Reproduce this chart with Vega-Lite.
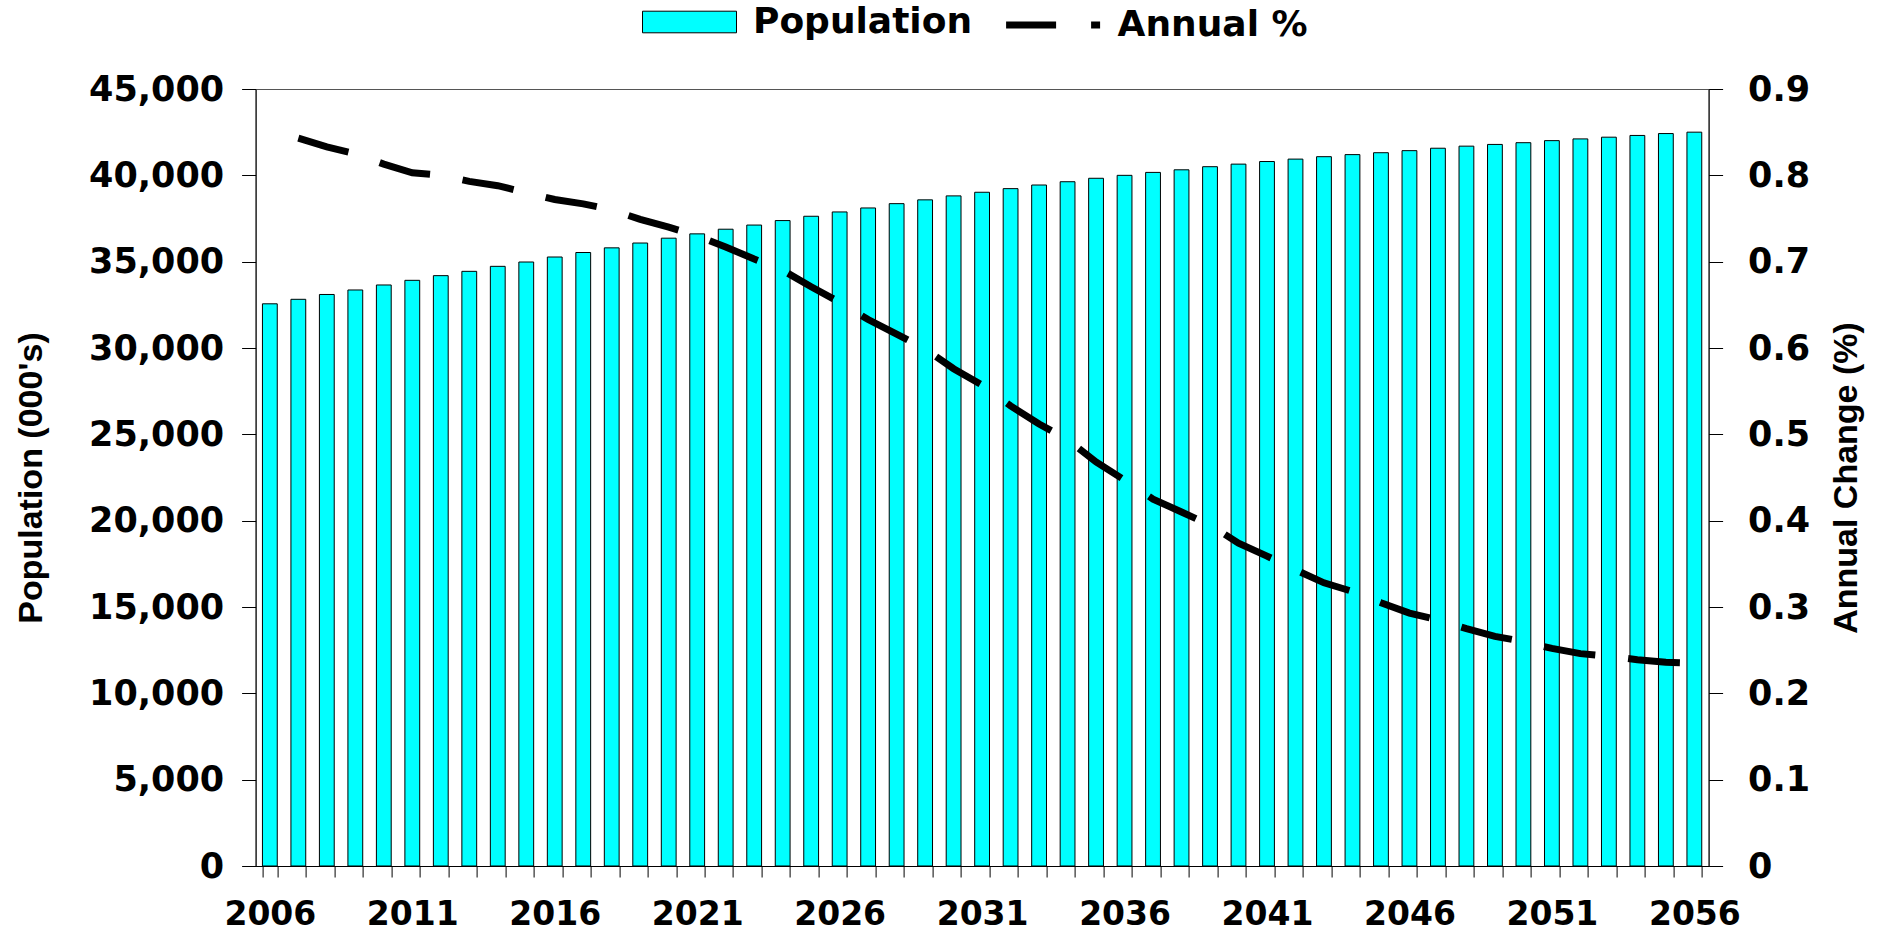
{
  "$schema": "https://vega.github.io/schema/vega-lite/v6.json",
  "width": 1453,
  "height": 777,
  "autosize": {"type": "none"},
  "padding": {"left": 255.6, "top": 89, "right": 172.4, "bottom": 68},
  "background": "white",
  "config": {
    "view": {"stroke": "#555555", "strokeWidth": 1},
    "axis": {"grid": false}
  },
  "data": {
    "values": [
      {"year": 2006, "pop": 32560, "pct": null},
      {"year": 2007, "pop": 32820, "pct": 0.843},
      {"year": 2008, "pop": 33100, "pct": 0.833},
      {"year": 2009, "pop": 33360, "pct": 0.825},
      {"year": 2010, "pop": 33650, "pct": 0.813},
      {"year": 2011, "pop": 33920, "pct": 0.803},
      {"year": 2012, "pop": 34190, "pct": 0.8},
      {"year": 2013, "pop": 34440, "pct": 0.793},
      {"year": 2014, "pop": 34730, "pct": 0.788},
      {"year": 2015, "pop": 34980, "pct": 0.78},
      {"year": 2016, "pop": 35270, "pct": 0.772},
      {"year": 2017, "pop": 35530, "pct": 0.767},
      {"year": 2018, "pop": 35800, "pct": 0.76},
      {"year": 2019, "pop": 36080, "pct": 0.749},
      {"year": 2020, "pop": 36360, "pct": 0.74},
      {"year": 2021, "pop": 36610, "pct": 0.73},
      {"year": 2022, "pop": 36880, "pct": 0.717},
      {"year": 2023, "pop": 37120, "pct": 0.703},
      {"year": 2024, "pop": 37380, "pct": 0.69},
      {"year": 2025, "pop": 37630, "pct": 0.671},
      {"year": 2026, "pop": 37880, "pct": 0.653},
      {"year": 2027, "pop": 38110, "pct": 0.633},
      {"year": 2028, "pop": 38360, "pct": 0.616},
      {"year": 2029, "pop": 38580, "pct": 0.599},
      {"year": 2030, "pop": 38810, "pct": 0.576},
      {"year": 2031, "pop": 39020, "pct": 0.557},
      {"year": 2032, "pop": 39230, "pct": 0.533},
      {"year": 2033, "pop": 39440, "pct": 0.512},
      {"year": 2034, "pop": 39630, "pct": 0.494},
      {"year": 2035, "pop": 39830, "pct": 0.468},
      {"year": 2036, "pop": 40000, "pct": 0.447},
      {"year": 2037, "pop": 40170, "pct": 0.425},
      {"year": 2038, "pop": 40320, "pct": 0.41},
      {"year": 2039, "pop": 40500, "pct": 0.395},
      {"year": 2040, "pop": 40650, "pct": 0.374},
      {"year": 2041, "pop": 40800, "pct": 0.359},
      {"year": 2042, "pop": 40940, "pct": 0.343},
      {"year": 2043, "pop": 41080, "pct": 0.328},
      {"year": 2044, "pop": 41200, "pct": 0.318},
      {"year": 2045, "pop": 41310, "pct": 0.305},
      {"year": 2046, "pop": 41430, "pct": 0.293},
      {"year": 2047, "pop": 41570, "pct": 0.285},
      {"year": 2048, "pop": 41690, "pct": 0.275},
      {"year": 2049, "pop": 41790, "pct": 0.266},
      {"year": 2050, "pop": 41890, "pct": 0.26},
      {"year": 2051, "pop": 42010, "pct": 0.252},
      {"year": 2052, "pop": 42110, "pct": 0.246},
      {"year": 2053, "pop": 42210, "pct": 0.243},
      {"year": 2054, "pop": 42310, "pct": 0.239},
      {"year": 2055, "pop": 42420, "pct": 0.236},
      {"year": 2056, "pop": 42500, "pct": 0.235}
    ]
  },
  "encoding": {
    "x": {
      "field": "year",
      "type": "ordinal",
      "scale": {"paddingInner": 0.48, "paddingOuter": 0.24},
      "axis": {
        "title": null,
        "labelAngle": 0,
        "labelOverlap": false,
        "labelExpr": "datum.value % 5 === 1 ? datum.label : ''",
        "labelFont": "DejaVu Sans",
        "labelFontWeight": "bold",
        "labelFontSize": 33,
        "labelColor": "black",
        "labelPadding": 21,
        "tickBand": "extent",
        "tickSize": 11,
        "tickColor": "black",
        "domainColor": "black",
        "encode": {
          "ticks": {"update": {"y": {"value": -11}}},
          "labels": {"update": {"dx": {"signal": "datum.value === 2006 ? 13 : datum.value === 2056 ? -18 : 0"}}}
        }
      }
    }
  },
  "layer": [
    {
      "mark": {"type": "bar", "stroke": "black", "strokeWidth": 1},
      "encoding": {
        "y": {
          "field": "pop",
          "type": "quantitative",
          "scale": {"domain": [0, 45000], "nice": false},
          "axis": {
            "orient": "left",
            "title": "Population (000's)",
            "tickCount": 9,
            "format": ",.0f",
            "labelFont": "DejaVu Sans",
            "labelFontWeight": "bold",
            "labelFontSize": 35,
            "labelColor": "black",
            "labelPadding": 18,
            "tickSize": 14,
            "tickColor": "black",
            "domainColor": "black",
            "titleFont": "Liberation Sans",
            "titleFontSize": 34,
            "titleFontWeight": "bold",
            "titleColor": "black",
            "titlePadding": 40,
            "encode": {"ticks": {"update": {"x": {"value": 14}}}}
          }
        },
        "fill": {
          "datum": "Population",
          "scale": {"domain": ["Population"], "range": ["#00FFFF"]},
          "legend": {
            "orient": "none",
            "legendX": 386.4,
            "legendY": -114.5,
            "title": null,
            "padding": 0,
            "labelFont": "DejaVu Sans",
            "labelFontSize": 36,
            "labelFontWeight": "bold",
            "labelColor": "black",
            "labelOffset": 16,
            "labelLimit": 0,
            "symbolType": "M-1,-0.23H1V0.23H-1Z",
            "symbolSize": 8836,
            "symbolStrokeColor": "black",
            "symbolStrokeWidth": 1,
            "symbolOpacity": 1
          }
        }
      }
    },
    {
      "mark": {"type": "line", "strokeWidth": 7, "strokeDash": [52, 33], "strokeCap": "butt"},
      "encoding": {
        "y": {
          "field": "pct",
          "type": "quantitative",
          "scale": {"domain": [0, 0.9], "nice": false},
          "axis": {
            "orient": "right",
            "title": "Annual Change (%)",
            "titleAngle": -90,
            "tickCount": 9,
            "format": ".1~f",
            "labelFont": "DejaVu Sans",
            "labelFontWeight": "bold",
            "labelFontSize": 35,
            "labelColor": "black",
            "labelPadding": 25,
            "tickSize": 14,
            "tickColor": "black",
            "domainColor": "black",
            "titleFont": "Liberation Sans",
            "titleFontSize": 34,
            "titleFontWeight": "bold",
            "titleColor": "black",
            "titlePadding": 54,
            "encode": {"ticks": {"update": {"x": {"value": -14}}}}
          }
        },
        "stroke": {
          "datum": "Annual %",
          "scale": {"domain": ["Annual %"], "range": ["#000000"]},
          "legend": {
            "orient": "none",
            "legendX": 747,
            "legendY": -114.5,
            "title": null,
            "padding": 0,
            "labelFont": "DejaVu Sans",
            "labelFontSize": 36,
            "labelFontWeight": "bold",
            "labelColor": "black",
            "labelOffset": 14,
            "labelLimit": 0,
            "symbolType": "stroke",
            "symbolSize": 8836,
            "symbolStrokeWidth": 7,
            "symbolDash": [50, 35],
            "symbolOpacity": 1
          }
        }
      }
    }
  ],
  "resolve": {"scale": {"y": "independent"}}
}
